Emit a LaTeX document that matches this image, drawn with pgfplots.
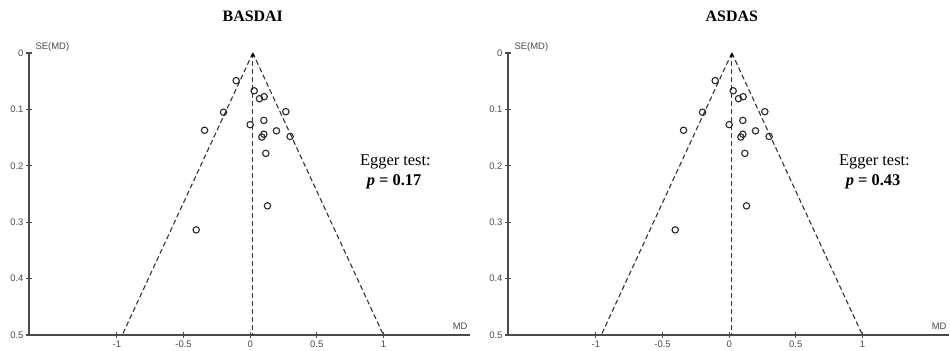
\documentclass[border=0pt]{standalone}
\usepackage{pgfplots}
\pgfplotsset{compat=1.18}
\usepackage{fontspec}
\setmainfont{Liberation Serif}
\setsansfont{Liberation Sans}
\pgfplotstableread{
x y
-0.105 0.049
0.03 0.067
0.07 0.081
0.105 0.0775
-0.20 0.105
0.2675 0.104
0.0 0.127
0.1025 0.1195
-0.3425 0.137
0.1975 0.138
0.30 0.148
0.1025 0.144
0.0875 0.149
0.1175 0.178
0.13 0.271
-0.405 0.3136
}\basdai
\pgfplotstableread{
x y
-0.105 0.049
0.03 0.067
0.07 0.081
0.105 0.0775
-0.20 0.105
0.2675 0.104
0.0 0.127
0.1025 0.1195
-0.3425 0.137
0.1975 0.138
0.30 0.148
0.1025 0.144
0.0875 0.149
0.1175 0.178
0.13 0.271
-0.405 0.3136
}\asdas
\definecolor{axgray}{HTML}{4A4A4A}
\pgfplotsset{
  funnel/.style={
    width=441bp, height=282bp, scale only axis,
    xmin=-1.66, xmax=1.65, ymin=0, ymax=0.5,
    y dir=reverse,
    axis x line=bottom, axis y line=left,
    axis line style={-, axgray, line width=1.6pt},
    xtick={-1,-0.5,0,0.5,1}, ytick={0,0.1,0.2,0.3,0.4,0.5},
    xticklabels={-1,-0.5,0,0.5,1},
    yticklabels={0,0.1,0.2,0.3,0.4,0.5},
    tick align=center, major tick length=6bp,
    tick style={axgray, line width=1.1pt},
    ticklabel style={font=\sffamily\fontsize{9.5}{10}\selectfont, text=axgray},
    xticklabel style={yshift=1bp},
    yticklabel style={xshift=1bp},
    clip=false,
  },
  fl/.style={black!80, line width=1.1pt, dash pattern=on 5bp off 3bp},
}
\begin{document}
\begin{tikzpicture}[x=1bp,y=1bp]
\useasboundingbox (0,0) rectangle (950,350);
% ---- BASDAI ----
\begin{axis}[funnel, at={(29bp,15bp)}, anchor=south west]
\addplot[fl] coordinates {(0.02,0) (-0.96,0.5)};
\addplot[fl] coordinates {(0.02,0) (1.00,0.5)};
\addplot[fl] coordinates {(0.02,0) (0.02,0.5)};
\addplot[only marks, mark=triangle*, mark size=2bp, black] coordinates {(0.02,0.004)};
\addplot[only marks, mark=o, mark size=3.2bp, mark options={line width=1.1pt, black!85}] table[x=x,y=y] {\basdai};
\node[font=\bfseries\fontsize{16}{18}\selectfont, anchor=center] at (axis cs:0.02,0) [yshift=37bp] {BASDAI};
\node[font=\sffamily\fontsize{9.5}{10}\selectfont, text=axgray, anchor=south west] at (rel axis cs:0,1) [xshift=3bp, yshift=-2bp] {SE(MD)};
\node[font=\sffamily\fontsize{9.5}{10}\selectfont, text=axgray, anchor=south east] at (rel axis cs:1,0) [xshift=1bp, yshift=2bp] {MD};
\node[font=\fontsize{16.5}{18}\selectfont, anchor=center] at (axis cs:1.09,0.193) {Egger test:};
\node[font=\bfseries\fontsize{16.5}{18}\selectfont, anchor=center] at (axis cs:1.08,0.228) {\textit{p} = 0.17};
\end{axis}
% ---- ASDAS ----
\begin{axis}[funnel, at={(508bp,15bp)}, anchor=south west]
\addplot[fl] coordinates {(0.02,0) (-0.96,0.5)};
\addplot[fl] coordinates {(0.02,0) (1.00,0.5)};
\addplot[fl] coordinates {(0.02,0) (0.02,0.5)};
\addplot[only marks, mark=triangle*, mark size=2bp, black] coordinates {(0.02,0.004)};
\addplot[only marks, mark=o, mark size=3.2bp, mark options={line width=1.1pt, black!85}] table[x=x,y=y] {\asdas};
\node[font=\bfseries\fontsize{16}{18}\selectfont, anchor=center] at (axis cs:0.02,0) [yshift=37bp] {ASDAS};
\node[font=\sffamily\fontsize{9.5}{10}\selectfont, text=axgray, anchor=south west] at (rel axis cs:0,1) [xshift=3bp, yshift=-2bp] {SE(MD)};
\node[font=\sffamily\fontsize{9.5}{10}\selectfont, text=axgray, anchor=south east] at (rel axis cs:1,0) [xshift=1bp, yshift=2bp] {MD};
\node[font=\fontsize{16.5}{18}\selectfont, anchor=center] at (axis cs:1.09,0.193) {Egger test:};
\node[font=\bfseries\fontsize{16.5}{18}\selectfont, anchor=center] at (axis cs:1.08,0.228) {\textit{p} = 0.43};
\end{axis}
\end{tikzpicture}
\end{document}
